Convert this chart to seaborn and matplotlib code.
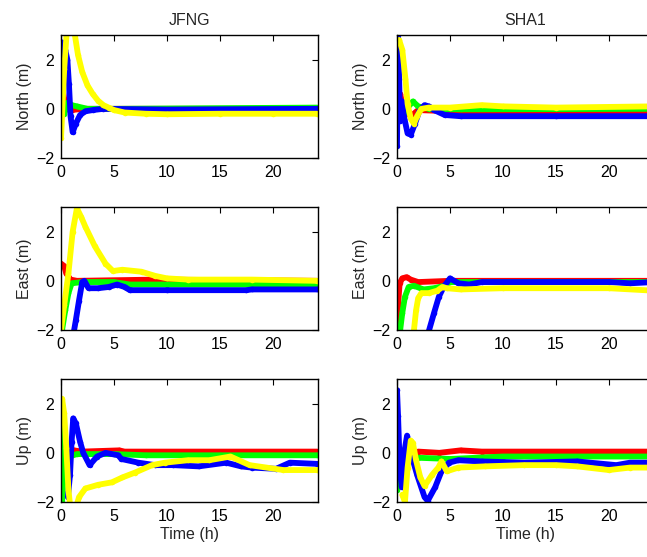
import numpy as np
import pandas as pd
import matplotlib
matplotlib.use('Agg')
import matplotlib.pyplot as plt
import seaborn as sns

# (time h, offset m), one list per station / component / colour
JFNG_N_R = [(0.0,1.3),(0.1,0.9),(0.3,0.4),(0.6,0.0),(1.0,-0.05),(2,0.0),(24.2,0.0)]
JFNG_N_G = [(0.0,0.6),(0.1,0.1),(0.3,-0.2),(0.6,0.25),(1.0,0.15),(1.5,0.1),(2.5,0.0),(5,0.0),(24.2,0.05)]
JFNG_N_B = [(0.05,2.7),(0.2,2.2),(0.4,2.4),(0.6,2.0),(0.75,1.0),(0.9,-0.3),(1.1,-0.95),(1.4,-0.6),(1.8,-0.25),
            (2.3,-0.1),(3.0,-0.05),(4,0.0),(10,-0.03),(24.2,0.0)]
JFNG_N_Y = [(0.0,-1.2),(0.3,1.6),(0.55,3.2),(1.2,3.3),(1.6,2.2),(2.0,1.5),(2.5,0.95),(3.0,0.6),(3.5,0.33),
            (4.0,0.15),(4.5,0.05),(5.0,-0.05),(6,-0.15),(8,-0.2),(10,-0.22),(15,-0.2),(20,-0.2),(24.2,-0.2)]

SHA1_N_R = [(0.0,0.7),(0.15,0.3),(0.3,0.6),(0.6,0.0),(1.3,-0.3),(2,-0.05),(5,-0.1),(14,-0.1),(24.2,-0.1)]
SHA1_N_G = [(0.0,-0.3),(0.2,0.3),(0.5,-0.4),(0.9,0.0),(1.5,0.3),(2.0,0.1),(3,0.0),(6,-0.02),(24.2,0.0)]
SHA1_N_B = [(0.0,-1.5),(0.1,3.0),(0.2,1.2),(0.3,-0.5),(0.45,0.3),(0.7,-0.4),(1.0,-1.0),(1.3,-1.05),(1.7,-0.6),
            (2.1,-0.1),(2.6,0.15),(3.0,0.1),(3.5,-0.05),(4.5,-0.25),(6,-0.3),(15,-0.3),(24.2,-0.3)]
SHA1_N_Y = [(0.2,2.8),(0.5,2.4),(0.8,1.2),(1.0,0.2),(1.3,-0.4),(1.6,-0.6),(1.9,-0.3),(2.3,0.0),(3,0.05),
            (5,0.05),(8,0.15),(10,0.1),(15,0.05),(24.2,0.1)]

JFNG_E_R = [(0.0,0.7),(0.3,0.6),(0.5,0.3),(0.9,0.05),(1.5,0.0),(9,0.05),(24.2,0.0)]
JFNG_E_G = [(0.1,-2.0),(0.4,-1.2),(0.7,-0.5),(1.0,-0.1),(2,-0.05),(5,-0.05),(6.5,-0.15),(10,-0.15),(24.2,-0.15)]
JFNG_E_B = [(1.2,-2.1),(1.4,-1.6),(1.7,-0.8),(2.0,-0.05),(2.2,0.0),(2.6,-0.3),(3.5,-0.3),(4.5,-0.25),(5.3,-0.15),
            (6.0,-0.25),(6.5,-0.38),(10,-0.38),(17.5,-0.38),(18,-0.35),(24.2,-0.35)]
JFNG_E_Y = [(0.0,-2.0),(0.3,-1.0),(0.7,0.3),(1.1,2.0),(1.5,2.95),(1.9,2.6),(2.3,2.2),(3.2,1.4),(4.2,0.7),
            (4.9,0.4),(5.8,0.45),(7.6,0.37),(8.9,0.2),(10,0.1),(12,0.05),(18,0.05),(24.2,0.0)]

SHA1_E_R = [(0.0,-1.9),(0.1,-1.0),(0.25,-0.1),(0.5,0.1),(0.9,0.15),(1.3,0.05),(2,-0.05),(5,0.0),(24.2,0.0)]
SHA1_E_G = [(0.3,-2.0),(0.5,-1.3),(0.75,-0.65),(1.1,-0.25),(1.6,-0.2),(2.5,-0.35),(3.5,-0.3),(4.5,-0.2),
            (5,-0.05),(24.2,-0.05)]
SHA1_E_B = [(3.0,-2.05),(3.5,-1.3),(3.95,-0.65),(4.4,-0.25),(5.0,0.1),(5.8,-0.1),(6.8,-0.15),(8,-0.05),
            (20,-0.05),(22,-0.1),(24.2,-0.05)]
SHA1_E_Y = [(1.6,-2.0),(1.8,-1.2),(2.0,-0.7),(2.3,-0.5),(3.0,-0.5),(3.8,-0.4),(4.3,-0.25),(4.7,-0.3),(6,-0.35),
            (10,-0.3),(20,-0.3),(24.2,-0.4)]

JFNG_U_R = [(0.0,2.0),(0.05,-0.6),(0.1,-0.9),(0.3,-0.5),(0.6,-0.1),(1.2,0.1),(2,0.05),(5.5,0.1),(6,0.05),(24.2,0.05)]
JFNG_U_G = [(0.0,1.0),(0.05,-0.5),(0.1,-2.0),(0.2,-1.2),(0.4,-0.4),(0.8,-0.15),(1.5,-0.05),(5,-0.05),(8,-0.1),
            (15,-0.1),(24.2,-0.1)]
JFNG_U_B = [(0.65,-1.8),(0.85,-0.9),(1.0,0.45),(1.15,1.4),(1.4,1.2),(1.8,0.45),(2.1,0.0),(2.7,-0.5),(3.4,-0.15),
            (4.2,0.0),(5.4,-0.1),(5.7,-0.25),(7.3,-0.4),(8.9,-0.5),(10.6,-0.5),(13,-0.55),(15.6,-0.4),(17,-0.55),
            (18,-0.6),(20.3,-0.65),(21.6,-0.4),(24.2,-0.45)]
JFNG_U_Y = [(0.1,2.2),(0.3,1.6),(0.5,0.2),(0.7,-1.5),(0.9,-2.3),(1.5,-2.1),(1.7,-1.8),(2.3,-1.45),(3.5,-1.3),
            (4.8,-1.2),(5.8,-1.0),(7.0,-0.8),(8.6,-0.5),(9.8,-0.4),(12,-0.3),(14,-0.3),(16,-0.15),(17.8,-0.5),
            (21,-0.7),(24.2,-0.7)]

SHA1_U_R = [(0.0,0.7),(0.1,0.0),(0.3,-0.4),(0.6,0.0),(1.5,-0.05),(2.0,0.05),(4,0.0),(6,0.1),(8,0.05),(24.2,0.05)]
SHA1_U_G = [(0.0,-1.5),(0.1,-0.5),(0.3,-0.8),(0.6,-0.3),(1.2,-0.3),(2,-0.2),(5,-0.25),(10,-0.15),(24.2,-0.15)]
SHA1_U_B = [(0.0,2.55),(0.1,1.5),(0.2,0.2),(0.3,-0.8),(0.45,-1.4),(0.6,-0.2),(0.95,0.7),(1.2,0.1),(1.5,-0.3),
            (1.9,-0.9),(2.6,-1.8),(2.9,-1.95),(3.6,-1.4),(4.2,-0.75),(4.9,-0.4),(5.8,-0.3),(8,-0.35),(12,-0.4),
            (17,-0.35),(20.7,-0.5),(22,-0.4),(24.2,-0.4)]
SHA1_U_Y = [(0.5,-1.7),(0.75,-2.0),(1.0,-0.6),(1.3,0.5),(1.5,0.4),(1.8,-0.3),(2.2,-1.0),(2.6,-1.35),(3.3,-0.9),
            (3.9,-0.6),(4.2,-0.35),(4.7,-0.75),(5.8,-0.6),(8.3,-0.55),(12,-0.5),(15,-0.5),(17,-0.55),(20,-0.7),
            (22,-0.6),(24.2,-0.6)]

stations = ['JFNG', 'SHA1']
components = ['North (m)', 'East (m)', 'Up (m)']
colors = ['#ff0000', '#00ff00', '#0000ff', '#ffff00']
panels = [[[JFNG_N_R, JFNG_N_G, JFNG_N_B, JFNG_N_Y], [SHA1_N_R, SHA1_N_G, SHA1_N_B, SHA1_N_Y]],
          [[JFNG_E_R, JFNG_E_G, JFNG_E_B, JFNG_E_Y], [SHA1_E_R, SHA1_E_G, SHA1_E_B, SHA1_E_Y]],
          [[JFNG_U_R, JFNG_U_G, JFNG_U_B, JFNG_U_Y], [SHA1_U_R, SHA1_U_G, SHA1_U_B, SHA1_U_Y]]]

sns.set_style('white')
plt.rcParams['font.family'] = ['Liberation Sans', 'DejaVu Sans']
plt.rcParams['font.size'] = 11.5

fig = plt.figure(figsize = (6.47, 5.57), dpi = 100)
lefts = [0.0943, 0.6136]
bottoms = [0.7163, 0.4075, 0.0987]
for i in range(3):
    for j in range(2):
        ax = fig.add_axes([lefts[j], bottoms[i], 0.397, 0.2208])
        for s, c in zip(panels[i][j], colors):
            d = pd.DataFrame(s, columns = ['t', 'v'])
            sns.lineplot(data = d, x = 't', y = 'v', ax = ax, color = c, lw = 4.2, estimator = None, sort = False,
                         marker = '.', markersize = 8, markeredgewidth = 0,
                         solid_capstyle = 'round', solid_joinstyle = 'round')
        ax.set_xlim(0, 24.25); ax.set_ylim(-2, 3)
        ax.set_xticks([0, 5, 10, 15, 20]); ax.set_yticks([-2, 0, 2])
        ax.tick_params(direction = 'in', top = True, right = True, length = 4, width = 0.8, colors = 'black', pad = 5)
        for sp in ax.spines.values():
            sp.set_color('black'); sp.set_linewidth(1)
        ax.set_ylabel(components[i], labelpad = 3); ax.set_xlabel('')
        if i == 0:
            ax.set_title(stations[j], fontsize = 11.5, pad = 7)
        if i == 2:
            ax.set_xlabel('Time (h)', labelpad = 2)

fig.savefig('out.png', dpi = 100)
